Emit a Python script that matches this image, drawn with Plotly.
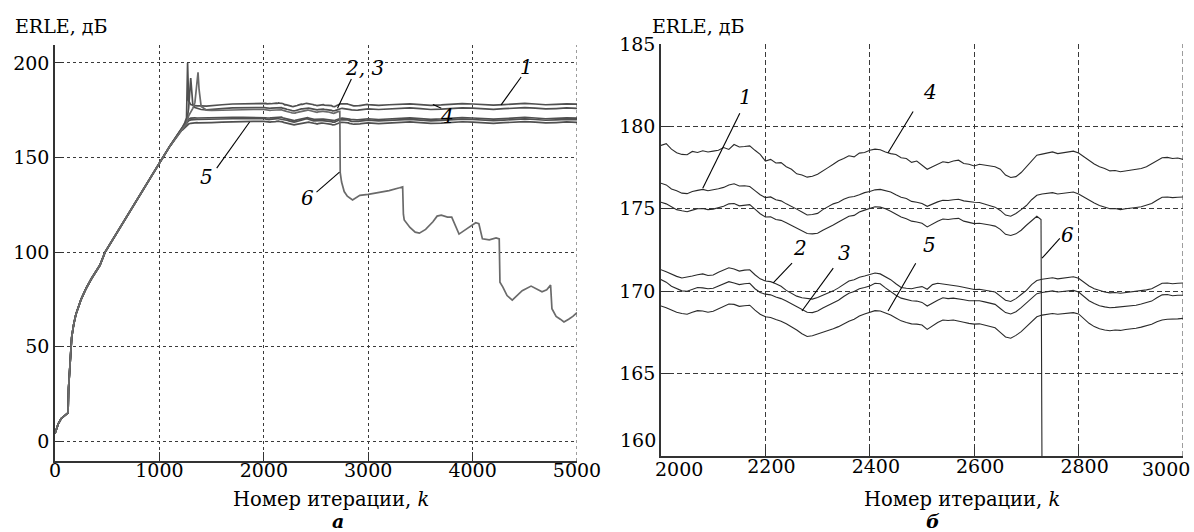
import plotly.graph_objects as go

# ---------------- data ----------------
# common adaptation ramp (iterations 0..1200), dB
K_RAMP = [0, 15, 30, 60, 100, 125, 130, 143, 160, 180, 200, 250, 300, 350, 430, 480,
          600, 700, 800, 900, 1000, 1100, 1200]
V_RAMP = [4, 7, 9, 12, 14, 15, 28, 43, 55, 62, 67, 75, 81, 86, 93, 100,
          111, 120, 129, 138.5, 147, 156, 164]

# settling section (iterations 1220..1900)
K_SETTLE = [1220, 1240, 1260, 1270, 1280, 1300, 1320, 1340, 1360, 1370, 1380, 1400,
            1450, 1500, 1600, 1700, 1800, 1900]
SETTLE_1 = [165.5, 167, 169, 172, 176, 192, 178, 176.4, 176.0, 175.8, 175.6, 175.4,
            175.2, 175.5, 175.9, 176.2, 176.4, 176.5]
SETTLE_2 = [165.5, 167, 168.5, 169.5, 170.3, 170.8, 171.0, 171.0, 170.9, 170.9, 170.9, 170.9,
            170.9, 171.0, 171.1, 171.2, 171.3, 171.3]
SETTLE_3 = [165, 166.5, 168, 168.8, 169.4, 169.9, 170.1, 170.2, 170.2, 170.1, 170.1, 170.1,
            170.1, 170.2, 170.3, 170.5, 170.6, 170.7]
SETTLE_4 = [166, 168, 171, 200, 180, 178, 177.6, 177.4, 177.3, 177.2, 177.3, 177.3,
            177.2, 177.5, 177.9, 178.3, 178.5, 178.7]
SETTLE_5 = [164.5, 165.5, 166.5, 167.2, 167.7, 168.1, 168.3, 168.4, 168.4, 168.3, 168.3, 168.3,
            168.3, 168.5, 168.7, 168.9, 169.0, 169.1]
SETTLE_6 = [165, 166.5, 168, 170, 172, 174, 176, 179, 190, 195, 186, 177,
            175.1, 174.9, 175.0, 175.2, 175.3, 175.4]

# steady-state section, iterations 2000..3000 every 10
K_ZOOM = list(range(2000, 3001, 10))
ZOOM_1 = [176.55, 176.45, 176.20, 176.10, 175.95, 175.92, 176.05, 176.12, 176.18, 176.10,
          176.15, 176.22, 176.30, 176.45, 176.52, 176.38, 176.40, 176.35, 176.10, 175.85,
          175.68, 175.72, 175.55, 175.48, 175.30, 175.15, 174.98, 174.80, 174.62, 174.65,
          174.72, 174.95, 175.12, 175.30, 175.40, 175.58, 175.70, 175.75, 175.85, 175.98,
          176.05, 176.15, 176.18, 176.10, 176.02, 175.85, 175.70, 175.62, 175.45, 175.40,
          175.32, 175.15, 175.30, 175.42, 175.52, 175.50, 175.55, 175.58, 175.48, 175.42,
          175.40, 175.38, 175.30, 175.20, 175.10, 174.90, 174.62, 174.55, 174.72, 174.95,
          175.20, 175.55, 175.82, 175.90, 175.92, 175.98, 175.90, 175.95, 176.00, 176.02,
          175.90, 175.70, 175.50, 175.35, 175.20, 175.10, 175.00, 175.02, 174.95, 175.00,
          175.02, 175.08, 175.12, 175.20, 175.32, 175.52, 175.70, 175.72, 175.68, 175.70,
          175.72]
ZOOM_2 = [171.30, 171.18, 171.02, 170.90, 170.80, 170.85, 170.92, 171.00, 171.05, 170.95,
          170.98, 171.15, 171.30, 171.42, 171.35, 171.22, 171.28, 171.30, 171.00, 170.75,
          170.62, 170.58, 170.45, 170.30, 170.05, 169.88, 169.70, 169.60, 169.55, 169.52,
          169.62, 169.75, 169.88, 170.02, 170.20, 170.42, 170.62, 170.70, 170.85, 170.92,
          171.00, 171.10, 171.05, 170.90, 170.70, 170.45, 170.22, 170.18, 170.15, 170.22,
          170.28, 170.12, 170.40, 170.48, 170.45, 170.38, 170.35, 170.30, 170.22, 170.15,
          170.10, 170.12, 170.05, 170.00, 169.95, 169.70, 169.45, 169.38, 169.55, 169.80,
          170.05, 170.40, 170.65, 170.72, 170.78, 170.82, 170.75, 170.80, 170.85, 170.88,
          170.78, 170.55, 170.32, 170.15, 170.05, 169.95, 169.90, 169.92, 169.88, 169.92,
          169.95, 170.00, 170.02, 170.08, 170.15, 170.30, 170.48, 170.50, 170.45, 170.48,
          170.50]
ZOOM_3 = [170.70, 170.55, 170.30, 170.15, 170.02, 170.00, 170.12, 170.22, 170.20, 170.15,
          170.18, 170.30, 170.45, 170.58, 170.50, 170.40, 170.45, 170.48, 170.15, 169.92,
          169.82, 169.78, 169.65, 169.55, 169.40, 169.22, 169.05, 168.85, 168.72, 168.70,
          168.80, 168.98, 169.15, 169.28, 169.45, 169.68, 169.88, 169.98, 170.15, 170.22,
          170.32, 170.48, 170.45, 170.20, 169.95, 169.75, 169.58, 169.50, 169.42, 169.40,
          169.32, 169.10, 169.30, 169.45, 169.60, 169.55, 169.58, 169.55, 169.48, 169.42,
          169.40, 169.42, 169.35, 169.28, 169.20, 168.95, 168.70, 168.62, 168.75, 169.00,
          169.30, 169.60, 169.85, 169.92, 169.98, 170.02, 169.95, 169.98, 170.02, 170.05,
          169.95, 169.70, 169.42, 169.25, 169.12, 169.05, 169.00, 169.02, 169.05, 169.08,
          169.10, 169.15, 169.22, 169.30, 169.40, 169.60, 169.78, 169.80, 169.72, 169.75,
          169.75]
ZOOM_4 = [178.85, 178.95, 178.62, 178.40, 178.30, 178.28, 178.48, 178.42, 178.52, 178.45,
          178.50, 178.55, 178.72, 178.60, 178.90, 178.75, 178.78, 178.82, 178.55, 178.30,
          177.90, 178.00, 177.78, 177.80, 177.55, 177.40, 177.12, 177.05, 176.92, 176.98,
          177.10, 177.28, 177.50, 177.70, 177.92, 178.05, 178.22, 178.15, 178.38, 178.42,
          178.55, 178.62, 178.58, 178.45, 178.35, 178.30, 178.10, 178.05, 177.82, 177.90,
          177.62, 177.40, 177.55, 177.70, 177.85, 177.80, 177.90, 177.95, 177.75, 177.70,
          177.60, 177.70, 177.65, 177.58, 177.55, 177.40, 177.05, 176.90, 176.95, 177.20,
          177.55, 177.90, 178.25, 178.32, 178.40, 178.45, 178.35, 178.40, 178.45, 178.50,
          178.38, 178.15, 177.92, 177.72, 177.55, 177.45, 177.30, 177.32, 177.25, 177.30,
          177.32, 177.40, 177.45, 177.55, 177.75, 177.90, 178.10, 178.12, 178.05, 178.08,
          178.00]
ZOOM_5 = [169.10, 169.00, 168.85, 168.72, 168.65, 168.60, 168.72, 168.82, 168.80, 168.72,
          168.78, 168.92, 169.08, 169.22, 169.20, 169.08, 169.12, 169.15, 168.85, 168.60,
          168.45, 168.40, 168.28, 168.18, 168.02, 167.85, 167.65, 167.42, 167.25, 167.30,
          167.40, 167.50, 167.62, 167.72, 167.85, 168.02, 168.18, 168.30, 168.50, 168.62,
          168.72, 168.82, 168.80, 168.68, 168.55, 168.38, 168.20, 168.10, 168.02, 168.00,
          167.95, 167.68, 167.90, 168.10, 168.25, 168.22, 168.25, 168.20, 168.12, 168.05,
          168.00, 168.02, 167.95, 167.88, 167.78, 167.50, 167.22, 167.15, 167.32, 167.55,
          167.85, 168.15, 168.45, 168.55, 168.62, 168.65, 168.60, 168.62, 168.68, 168.70,
          168.62, 168.32, 168.05, 167.85, 167.72, 167.65, 167.60, 167.65, 167.62, 167.68,
          167.70, 167.75, 167.82, 167.90, 168.00, 168.15, 168.25, 168.30, 168.30, 168.32,
          168.35]
# curve 6 follows the others up to iteration 2720, then breaks down
ZOOM_6 = [175.40, 175.30, 175.12, 174.95, 174.88, 174.82, 174.92, 175.00, 175.02, 174.95,
          174.98, 175.05, 175.15, 175.30, 175.32, 175.18, 175.22, 175.25, 174.98, 174.70,
          174.50, 174.52, 174.35, 174.30, 174.15, 173.98, 173.80, 173.62, 173.50, 173.48,
          173.52, 173.70, 173.85, 174.02, 174.20, 174.40, 174.55, 174.60, 174.80, 174.92,
          175.02, 175.12, 175.10, 175.00, 174.85, 174.68, 174.50, 174.40, 174.25, 174.20,
          174.12, 173.90, 174.10, 174.25, 174.38, 174.35, 174.40, 174.42, 174.25, 174.18,
          174.10, 174.12, 174.08, 174.02, 173.95, 173.75, 173.45, 173.38, 173.48, 173.70,
          174.00, 174.30, 174.55]

# late section, iterations 3100..5000 every 100
K_LATE = list(range(3100, 5001, 100))
LATE_1 = [175.4, 175.7, 176.0, 176.2, 175.8, 175.4, 175.6, 176.0, 176.3, 176.1,
          175.7, 175.5, 175.8, 176.2, 176.4, 176.1, 175.7, 175.9, 176.2, 176.0]
LATE_2 = [170.1, 170.4, 170.8, 171.0, 170.6, 170.2, 170.4, 170.8, 171.1, 170.9,
          170.5, 170.3, 170.6, 171.0, 171.2, 170.9, 170.5, 170.7, 171.0, 170.8]
LATE_3 = [169.4, 169.7, 170.0, 170.2, 169.8, 169.4, 169.6, 170.0, 170.3, 170.1,
          169.7, 169.5, 169.8, 170.2, 170.4, 170.1, 169.7, 169.9, 170.2, 170.0]
LATE_4 = [177.6, 177.9, 178.3, 178.4, 178.0, 177.6, 177.8, 178.2, 178.5, 178.3,
          177.9, 177.7, 178.0, 178.4, 178.6, 178.3, 177.9, 178.1, 178.4, 178.2]
LATE_5 = [167.9, 168.2, 168.6, 168.8, 168.4, 168.0, 168.2, 168.6, 168.9, 168.7,
          168.3, 168.1, 168.4, 168.8, 169.0, 168.7, 168.3, 168.5, 168.8, 168.6]

# curve 6 after the breakdown
K_DROP_6 = [2728, 2732, 2745, 2770, 2800, 2850, 2920, 3000, 3100, 3200,
            3300, 3330, 3337, 3345, 3400, 3450, 3490, 3550, 3620, 3660,
            3700, 3760, 3800, 3840, 3870, 3950, 4000, 4030, 4060, 4094,
            4160, 4225, 4255, 4262, 4290, 4330, 4380, 4430, 4475, 4560,
            4620, 4665, 4710, 4747, 4760, 4800, 4840, 4875, 4920, 4960, 5000]
V_DROP_6 = [174.35, 142, 137, 132, 129.5, 127.5, 130, 130.5, 131.5, 132.5,
            134, 134.5, 120, 117, 113, 110.5, 110, 112, 116, 119,
            119.5, 118.5, 118.5, 113, 109.5, 112.5, 114.5, 115.5, 115, 107,
            106.5, 107.5, 107, 84, 81.5, 77, 74.6, 77, 79.6, 82,
            80.5, 79, 80, 82.5, 70, 66, 64.5, 63, 64.5, 66, 68]

X_TICKS_A = [0, 1000, 2000, 3000, 4000, 5000]
Y_TICKS_A = [0, 50, 100, 150, 200]
X_TICKS_B = [2000, 2200, 2400, 2600, 2800, 3000]
Y_TICKS_B = [165, 170, 175, 180, 185]

Y_TITLE = "ERLE, дБ"
X_TITLE = "Номер итерации, <i>k</i>"

# ---------------- figure ----------------
FONT = "DejaVu Serif"
W, H = 1194, 532

series = [
    (K_RAMP + K_SETTLE + K_ZOOM + K_LATE, V_RAMP + SETTLE_1 + ZOOM_1 + LATE_1),
    (K_RAMP + K_SETTLE + K_ZOOM + K_LATE, V_RAMP + SETTLE_2 + ZOOM_2 + LATE_2),
    (K_RAMP + K_SETTLE + K_ZOOM + K_LATE, V_RAMP + SETTLE_3 + ZOOM_3 + LATE_3),
    (K_RAMP + K_SETTLE + K_ZOOM + K_LATE, V_RAMP + SETTLE_4 + ZOOM_4 + LATE_4),
    (K_RAMP + K_SETTLE + K_ZOOM + K_LATE, V_RAMP + SETTLE_5 + ZOOM_5 + LATE_5),
    (K_RAMP + K_SETTLE + K_ZOOM[:len(ZOOM_6)] + K_DROP_6,
     V_RAMP + SETTLE_6 + ZOOM_6 + V_DROP_6),
]
for kk, vv in series:
    assert len(kk) == len(vv)

fig = go.Figure()
for i, (kk, vv) in enumerate(series):
    grey = "#6a6a6a" if i == 5 else "#505050"
    fig.add_trace(go.Scatter(x=kk, y=vv, xaxis="x", yaxis="y", mode="lines",
                             line=dict(color=grey, width=1.7), showlegend=False,
                             hoverinfo="skip"))
    fig.add_trace(go.Scatter(x=kk, y=vv, xaxis="x2", yaxis="y2", mode="lines",
                             line=dict(color="#2a2a2a", width=1.1), showlegend=False,
                             hoverinfo="skip"))


def px_x(x):
    return x / W


def px_y(y):
    return (H - y) / H


tick_font = dict(family=FONT, size=19, color="black")
axis_common = dict(
    showgrid=True, gridcolor="#3a3a3a", gridwidth=1,
    showline=True, linecolor="#333333", linewidth=1.5,
    ticks="inside", ticklen=9, tickcolor="#333333", tickwidth=1,
    zeroline=False, automargin=False, tickfont=tick_font, fixedrange=True,
)

fig.update_layout(
    template="none",
    width=W, height=H, margin=dict(l=0, r=0, t=0, b=0, pad=0),
    paper_bgcolor="white", plot_bgcolor="white",
    font=dict(family=FONT, size=19, color="black"),
    xaxis=dict(axis_common, domain=[px_x(55), px_x(577)], range=[0, 5000],
               tickvals=X_TICKS_A, anchor="y", griddash="3px,3px",
               ticklabelstandoff=-9),
    yaxis=dict(axis_common, domain=[px_y(461), px_y(45)], range=[-10.5, 209.5],
               tickvals=Y_TICKS_A, anchor="x", griddash="3px,3px"),
    xaxis2=dict(axis_common, domain=[px_x(661), px_x(1183)], range=[2000, 3000],
                tickvals=X_TICKS_B,
                ticktext=[""] + [str(v) for v in X_TICKS_B[1:-1]] + [""],
                anchor="y2", griddash="5px,3px", ticklabelshift=6,
                ticklabelstandoff=-8),
    yaxis2=dict(axis_common, domain=[px_y(456), px_y(44)], range=[160, 185],
                tickvals=Y_TICKS_B, anchor="x2", griddash="5px,3px"),
)

ann = []
shapes = []
# axis titles and panel letters
for xc in (331, 962):
    ann.append(dict(text=X_TITLE, x=px_x(xc), y=px_y(499), xref="paper", yref="paper",
                    xanchor="center", yanchor="middle", showarrow=False,
                    font=dict(family=FONT, size=19.5, color="black")))
for xc, letter in ((338, "а"), (933, "б")):
    ann.append(dict(text="<b><i>%s</i></b>" % letter, x=px_x(xc), y=px_y(521),
                    xref="paper", yref="paper", xanchor="center", yanchor="middle",
                    showarrow=False, font=dict(family=FONT, size=19, color="black")))
for xl in (13, 650):
    ann.append(dict(text=Y_TITLE, x=px_x(xl), y=px_y(26), xref="paper", yref="paper",
                    xanchor="left", yanchor="middle", showarrow=False,
                    font=dict(family=FONT, size=19, color="black")))
# lowest y tick label and end x tick labels of the right panel
ann.append(dict(text="160", x=0, y=161.0, xref="x2 domain", yref="y2",
                xanchor="right", yanchor="middle", xshift=-3, showarrow=False,
                font=tick_font))
ann.append(dict(text="2000", x=px_x(653), y=px_y(469), xref="paper", yref="paper",
                xanchor="left", yanchor="middle", showarrow=False, font=tick_font))
ann.append(dict(text="3000", x=px_x(1192), y=px_y(469), xref="paper", yref="paper",
                xanchor="right", yanchor="middle", showarrow=False, font=tick_font))

# grid lines on the right-hand borders
shapes.append(dict(type="line", xref="x", yref="y domain", x0=5000, x1=5000, y0=0, y1=1,
                   line=dict(color="#3a3a3a", width=1, dash="3px,3px")))
shapes.append(dict(type="line", xref="x2", yref="y2 domain", x0=3000, x1=3000, y0=0, y1=1,
                   line=dict(color="#3a3a3a", width=1, dash="5px,3px")))

# curve labels with leader lines: (axes, text, text pos, line start, line end)
labels = [
    ("", "1", (4512, 198), (4465, 192.6), (4273, 177.8)),
    ("", "2, 3", (2960, 197.4), (2839, 191.5), (2706, 176.0)),
    ("", "4", (3757, 172.0), (3700, 176.0), (3620, 178.0)),
    ("", "5", (1453, 139.7), (1549, 144.4), (1864, 168.8)),
    ("", "6", (2419, 128.6), (2505, 131.7), (2725, 142.3)),
    ("2", "1", (2161, 181.8), (2151, 180.8), (2080, 176.24)),
    ("2", "4", (2515, 182.1), (2483, 180.9), (2435, 178.4)),
    ("2", "2", (2266, 172.65), (2251, 171.7), (2215, 170.5)),
    ("2", "3", (2352, 172.3), (2330, 171.4), (2270, 168.8)),
    ("2", "5", (2515, 172.8), (2488, 171.7), (2435, 168.8)),
    ("2", "6", (2778, 173.4), (2764, 173.2), (2730, 172.0)),
]
for ax, text, (tx, ty), (x0, y0), (x1, y1) in labels:
    ann.append(dict(text="<i>%s</i>" % text, x=tx, y=ty, xref="x" + ax, yref="y" + ax,
                    xanchor="center", yanchor="middle", showarrow=False,
                    font=dict(family=FONT, size=20, color="black")))
    shapes.append(dict(type="line", x0=x0, y0=y0, x1=x1, y1=y1, xref="x" + ax,
                       yref="y" + ax, line=dict(color="black", width=1.1)))

fig.update_layout(annotations=ann, shapes=shapes)

fig.write_html("out.html")
